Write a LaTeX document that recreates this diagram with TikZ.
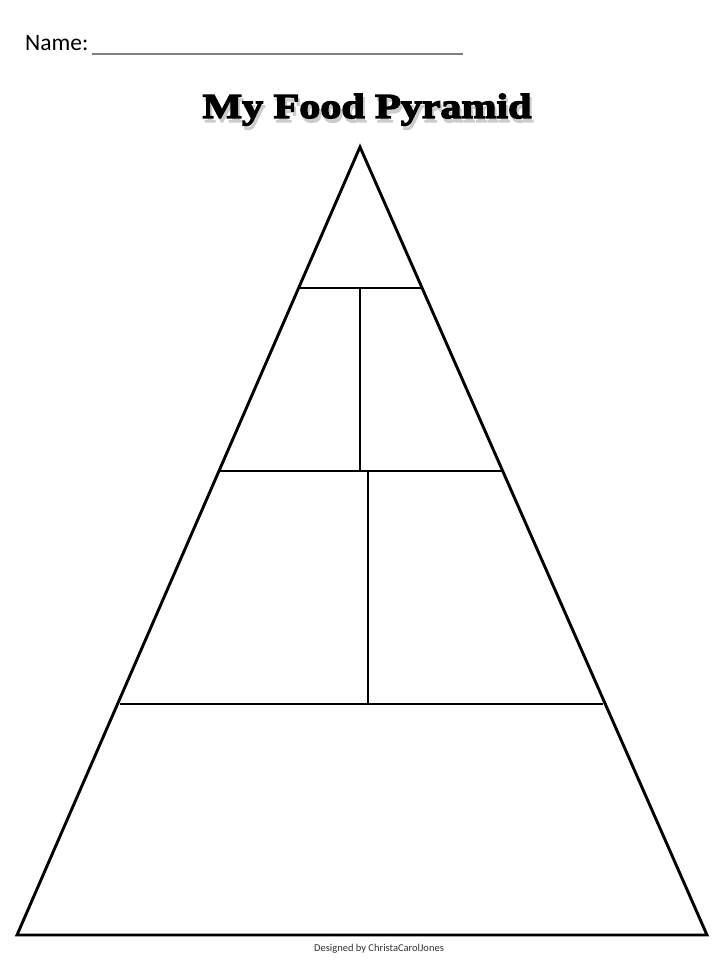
\documentclass[tikz,border=0pt]{standalone}
\usepackage{fontspec}
\setmainfont{Carlito}
\newfontfamily\titlefont[FakeStretch=1.2,FakeBold=4]{Liberation Serif}
\usetikzlibrary{calc}
\tikzset{
%Define style for different line styles
important line/.style={line width=2.9pt, black, line join=miter},
name line/.style={line width=2.4pt, black!50},
title text/.style={font=\titlefont\bfseries\fontsize{35}{35}\selectfont, inner sep=0pt},
}

\begin{document}
\begin{tikzpicture}[x=1pt,y=-1pt]
\useasboundingbox (0,0) rectangle (720,960);

% name field
\node[anchor=base west, inner sep=0pt, font=\fontsize{23.5}{23.5}\selectfont]
(name) at (25,51) {Name:};
\path coordinate (n1) at (92,54) coordinate (n2) at (463,54);
\draw[name line] (n1) -- (n2);

% title with its shadow
\node[title text, anchor=base, text=black!20] (shadow) at (369,122)
{My Food Pyramid};
\node[title text, anchor=base] (title) at (367,118) {My Food Pyramid};

% outline of the pyramid
\path coordinate (p1) at (17,935) coordinate (p2) at (707,935)
coordinate (p3) at (360,147);
\draw[important line] (p1) -- (p2) -- (p3) -- cycle;

% the floors
\path coordinate (a1) at (298,288) coordinate (a2) at (422,288)
coordinate (b1) at (219,471) coordinate (b2) at (502,471)
coordinate (c1) at (120,704) coordinate (c2) at (603,704);
\draw[important line] (a1) -- (a2);
\draw[important line] (b1) -- (b2);
\draw[important line] (c1) -- (c2);

% the walls
\path coordinate (v1) at (360,288) coordinate (v2) at (360,471)
coordinate (w1) at (368,471) coordinate (w2) at (368,704);
\draw[important line] (v1) -- (v2);
\draw[important line] (w1) -- (w2);

\node[font=\fontsize{10.5}{10.5}\selectfont, text=black!80] (credit) at (379,949)
{Designed by ChristaCarolJones};
\end{tikzpicture}
\end{document}
